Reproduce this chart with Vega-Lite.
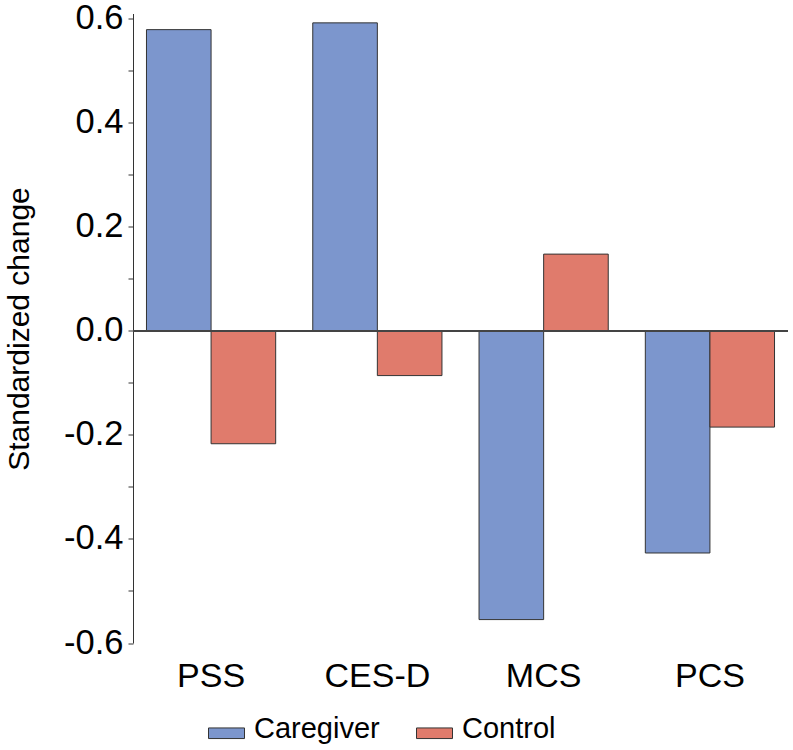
{
  "$schema": "https://vega.github.io/schema/vega-lite/v6.json",
  "width": 655,
  "height": 629.5,
  "autosize": {"type": "none"},
  "padding": {"left": 133, "top": 13.5, "right": 5, "bottom": 107},
  "config": {
    "view": {"stroke": null},
    "font": "Liberation Sans",
    "axis": {"labelFont": "Liberation Sans", "titleFont": "Liberation Sans"},
    "legend": {"labelFont": "Liberation Sans"}
  },
  "data": {
    "values": [
      {"measure": "PSS", "group": "Caregiver", "value": 0.579},
      {"measure": "PSS", "group": "Control", "value": -0.217},
      {"measure": "CES-D", "group": "Caregiver", "value": 0.592},
      {"measure": "CES-D", "group": "Control", "value": -0.086},
      {"measure": "MCS", "group": "Caregiver", "value": -0.555},
      {"measure": "MCS", "group": "Control", "value": 0.1475},
      {"measure": "PCS", "group": "Caregiver", "value": -0.427},
      {"measure": "PCS", "group": "Control", "value": -0.185}
    ]
  },
  "layer": [
    {
      "mark": {"type": "bar", "stroke": "#333333", "strokeWidth": 1},
      "encoding": {
        "x": {
          "field": "measure",
          "type": "nominal",
          "sort": ["PSS", "CES-D", "MCS", "PCS"],
          "scale": {"paddingInner": 0.223, "paddingOuter": 0.081},
          "axis": {
            "title": null,
            "domain": false,
            "ticks": false,
            "labelAngle": 0,
            "labelFontSize": 34,
            "labelColor": "#000000",
            "labelPadding": 16.5
          }
        },
        "xOffset": {
          "field": "group",
          "type": "nominal",
          "sort": ["Caregiver", "Control"],
          "scale": {"paddingInner": 0, "paddingOuter": 0}
        },
        "y": {
          "field": "value",
          "type": "quantitative",
          "scale": {"domain": [-0.6, 0.61], "nice": false, "zero": false},
          "axis": {
            "title": "Standardized change",
            "titleFontSize": 30,
            "titleFontWeight": "normal",
            "titleColor": "#000000",
            "titleAngle": -90,
            "titleX": -104.3,
            "titleY": 315,
            "titleBaseline": "alphabetic",
            "titleAlign": "center",
            "values": [-0.6, -0.5, -0.4, -0.3, -0.2, -0.1, 0, 0.1, 0.2, 0.3, 0.4, 0.5, 0.6],
            "labelExpr": "abs(round(datum.value * 10)) % 2 == 0 ? (datum.value < 0 ? '-' : '') + format(abs(datum.value), '.1f') : ''",
            "labelFontSize": 34.5,
            "labelColor": "#000000",
            "labelPadding": 5,
            "tickSize": 5,
            "tickColor": "#333333",
            "domainColor": "#333333",
            "grid": false
          }
        },
        "y2": {"datum": 0},
        "color": {
          "field": "group",
          "type": "nominal",
          "scale": {"domain": ["Caregiver", "Control"], "range": ["#7C96CD", "#E07B6C"]},
          "legend": {
            "title": null,
            "orient": "none",
            "direction": "horizontal",
            "legendX": 79,
            "legendY": 700.7,
            "padding": 0,
            "symbolType": "M-1.8,-0.1H1.8V0.96H-1.8Z",
            "symbolSize": 400,
            "symbolStrokeColor": "#333333",
            "symbolStrokeWidth": 1,
            "symbolOpacity": 1,
            "labelFontSize": 29,
            "labelColor": "#000000",
            "labelOffset": 13,
            "columnPadding": 34
          }
        }
      }
    },
    {
      "mark": {"type": "rule", "color": "#444444", "strokeWidth": 1.5},
      "encoding": {"y": {"datum": 0}}
    }
  ]
}
